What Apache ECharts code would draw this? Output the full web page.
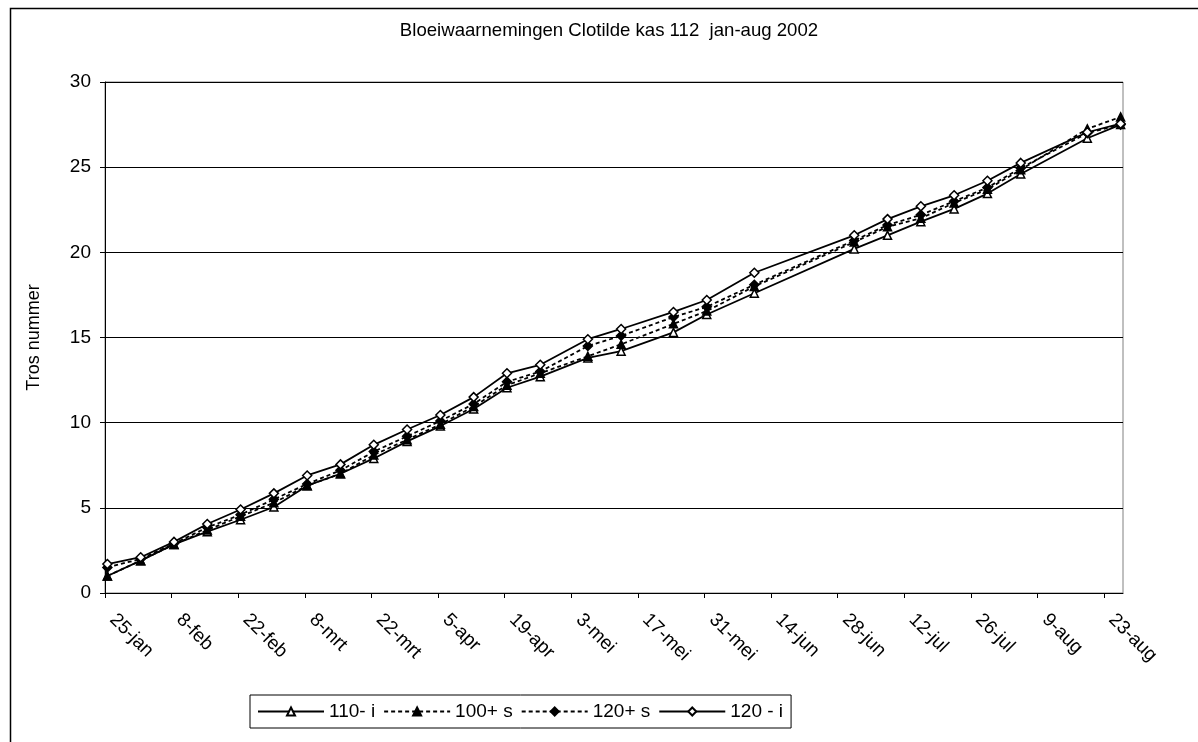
<!DOCTYPE html>
<html>
<head>
<meta charset="utf-8">
<script src="https://cdn.jsdelivr.net/npm/echarts@6/dist/echarts.min.js"></script>
<style>
html,body{margin:0;padding:0;background:#fff;}
#c{width:1198px;height:742px;}
</style>
</head>
<body>
<div id="c"></div>
<script>
// ---- data ----
const startDate = '2002-01-25';
const endDate = '2002-08-27';
const tickDates = ['2002-01-25','2002-02-08','2002-02-22','2002-03-08','2002-03-22','2002-04-05','2002-04-19','2002-05-03','2002-05-17','2002-05-31','2002-06-14','2002-06-28','2002-07-12','2002-07-26','2002-08-09','2002-08-23'];
const tickLabels = ['25-jan','8-feb','22-feb','8-mrt','22-mrt','5-apr','19-apr','3-mei','17-mei','31-mei','14-jun','28-jun','12-jul','26-jul','9-aug','23-aug'];
const obsDates = ['2002-01-25','2002-02-01','2002-02-08','2002-02-15','2002-02-22','2002-03-01','2002-03-08','2002-03-15','2002-03-22','2002-03-29','2002-04-05','2002-04-12','2002-04-19','2002-04-26','2002-05-06','2002-05-13','2002-05-24','2002-05-31','2002-06-10','2002-07-01','2002-07-08','2002-07-15','2002-07-22','2002-07-29','2002-08-05','2002-08-19','2002-08-26'];
const s110i  = [1.0,1.9,2.85,3.6,4.3,5.05,6.3,7.0,7.9,8.9,9.8,10.8,12.05,12.7,13.8,14.2,15.3,16.35,17.6,20.2,21.0,21.8,22.55,23.45,24.6,26.7,27.5];
const s100s  = [1.0,1.9,2.85,3.7,4.5,5.3,6.3,7.0,8.1,9.0,9.9,10.95,12.2,12.9,13.9,14.6,15.8,16.55,18.0,20.6,21.5,22.0,22.9,23.7,24.85,27.25,27.95];
const s120s  = [1.5,2.0,2.9,3.85,4.6,5.5,6.4,7.2,8.3,9.2,10.1,11.1,12.4,13.0,14.5,15.1,16.2,16.8,18.1,20.7,21.6,22.2,23.0,23.8,24.95,27.0,27.5];
const s120i  = [1.7,2.1,3.0,4.05,4.9,5.85,6.9,7.55,8.7,9.6,10.45,11.5,12.9,13.4,14.9,15.5,16.5,17.2,18.8,21.0,21.95,22.7,23.35,24.2,25.25,27.05,27.55];
const seriesNames = ['110- i','100+ s','120+ s','120 - i'];
const yTicks = [0,5,10,15,20,25,30];

// ---- helpers ----
const DAY = 86400000;
const t0 = Date.parse(startDate + 'T00:00:00Z');
const dayOf = d => (Date.parse(d + 'T00:00:00Z') - t0) / DAY;
const xMax = dayOf(endDate);
const tickVals = tickDates.map(dayOf);
const labelOf = {};
tickVals.forEach((v, i) => { labelOf[v] = tickLabels[i]; });
// Excel date axis centres each point in its day
const pts = vals => obsDates.map((d, i) => [dayOf(d) + 0.5, vals[i]]);

const FONT = "'Liberation Sans Narrow', 'Liberation Sans', Arial, sans-serif";

const mk = (name, vals, symbol, filled, dashed) => ({
  name, type: 'line', data: pts(vals),
  symbol, symbolSize: symbol === 'diamond' ? 9 : 8,
  showSymbol: true,
  lineStyle: { color: '#000', width: 1.8, type: dashed ? [4, 3] : 'solid' },
  itemStyle: { color: filled ? '#000' : '#fff', borderColor: '#000', borderWidth: 1.5 },
  emphasis: { disabled: true },
  animation: false
});

const chart = echarts.init(document.getElementById('c'), null, { renderer: 'canvas' });
chart.setOption({
  backgroundColor: '#fff',
  animation: false,
  title: {
    text: 'Bloeiwaarnemingen Clotilde kas 112  jan-aug 2002',
    left: 604, top: 16, textAlign: 'center',
    textStyle: { fontFamily: FONT, fontSize: 18.6, fontWeight: 'normal', color: '#000' }
  },
  graphic: [{
    type: 'rect', left: 8, top: 6, shape: { width: 1210, height: 760 },
    style: { fill: 'none', stroke: '#000', lineWidth: 1.5 }, silent: true, z: 100
  }],
  grid: { left: 105, right: 75, top: 82, bottom: 149, show: true, borderColor: '#808080', borderWidth: 1, backgroundColor: 'transparent' },
  legend: {
    left: 250, top: 695,
    data: seriesNames,
    orient: 'horizontal',
    itemWidth: 66, itemHeight: 10, itemGap: 8,
    padding: [7, 8, 7, 7],
    borderColor: '#000', borderWidth: 1,
    textStyle: { fontFamily: FONT, fontSize: 19, color: '#000' },
    selectedMode: false
  },
  xAxis: {
    type: 'value', min: 0, max: xMax,
    axisLine: { show: true, onZero: false, lineStyle: { color: '#000', width: 1 } },
    axisTick: { show: true, length: 5, customValues: tickVals, lineStyle: { color: '#000' } },
    axisLabel: {
      customValues: tickVals, rotate: -45, margin: 16,
      padding: [0, 0, 0, 11],
      fontFamily: FONT, fontSize: 19, color: '#000',
      formatter: v => labelOf[v] || ''
    },
    splitLine: { show: false }
  },
  yAxis: {
    type: 'value', min: 0, max: 30, interval: 5,
    name: 'Tros nummer', nameLocation: 'middle', nameGap: 62, nameRotate: 90,
    nameTextStyle: { fontFamily: FONT, fontSize: 18, color: '#000' },
    axisLine: { show: true, lineStyle: { color: '#000', width: 1 } },
    axisTick: { show: true, length: 5, lineStyle: { color: '#000' } },
    axisLabel: { margin: 14, fontFamily: FONT, fontSize: 19, color: '#000',
      formatter: v => (yTicks.indexOf(v) >= 0 ? String(v) : '') },
    splitLine: { show: true, lineStyle: { color: '#000', width: 1 } }
  },
  series: [
    mk(seriesNames[0], s110i, 'triangle', false, false),
    mk(seriesNames[1], s100s, 'triangle', true, true),
    mk(seriesNames[2], s120s, 'diamond', true, true),
    mk(seriesNames[3], s120i, 'diamond', false, false)
  ]
});
</script>
</body>
</html>
